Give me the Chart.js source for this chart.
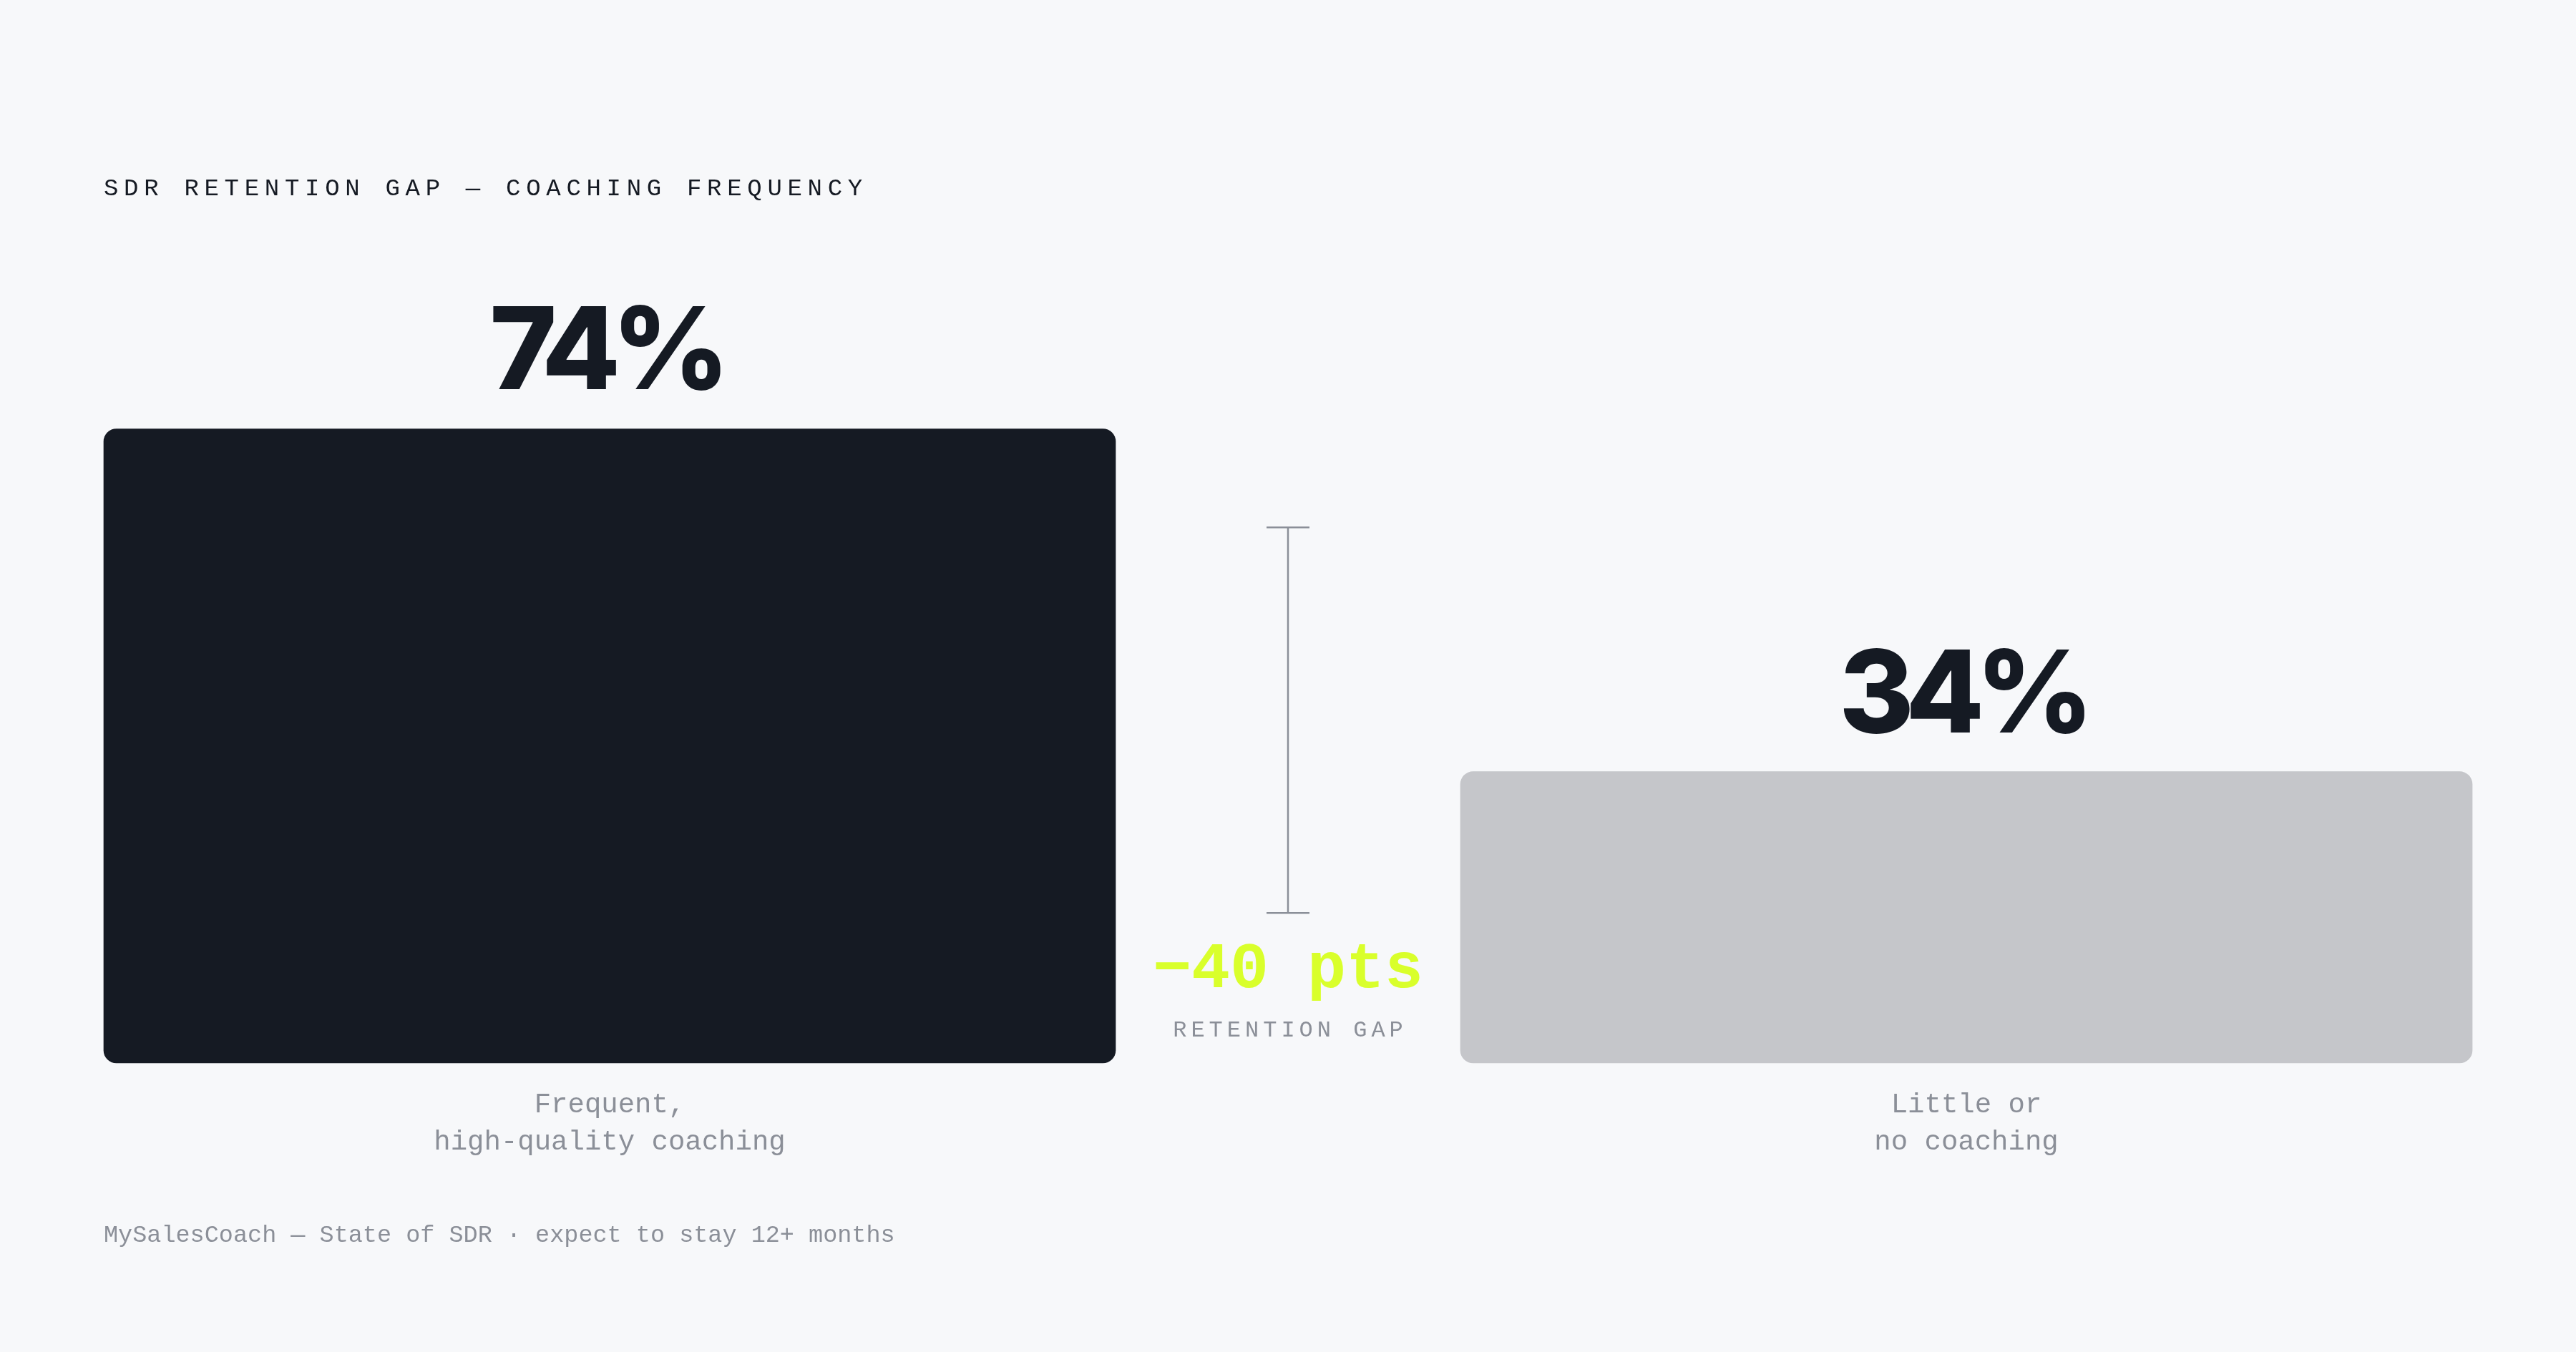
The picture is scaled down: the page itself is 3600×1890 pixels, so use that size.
<!DOCTYPE html>
<html>
<head>
<meta charset="utf-8">
<script src="https://cdn.jsdelivr.net/npm/chart.js@4.4.1/dist/chart.umd.min.js"></script>
<style>
  html, body { margin: 0; padding: 0; background: #f7f8fa; }
  #wrap { position: relative; width: 3600px; height: 1890px; }
  #chart { position: absolute; left: 0; top: 0; }
  .mono { position: absolute; font-family: "Liberation Mono", "DejaVu Sans Mono", monospace; line-height: 1; white-space: nowrap; }
  #title { left: 145px; top: 247px; font-size: 34px; letter-spacing: 7.7px; color: #151a23; }
  #footer { left: 145px; top: 1711px; font-size: 33.5px; color: #8b8f98; }
</style>
</head>
<body>
<div id="wrap">
  <canvas id="chart" width="3600" height="1890"></canvas>
  <div id="title" class="mono">SDR RETENTION GAP — COACHING FREQUENCY</div>
  <div id="footer" class="mono">MySalesCoach — State of SDR · expect to stay 12+ months</div>
</div>
<script>
// Data
const categories = [["Frequent,", "high-quality coaching"], ["Little or", "no coaching"]];
const retention = [74, 34];
const barColors = ["#151a23", "#c5c6ca"];
const gapLabel = "RETENTION GAP";

const MONO = '"Liberation Mono", "DejaVu Sans Mono", monospace';
const GREY = "#8b8f98";

// labels, gap bracket and callouts
const annotate = {
  id: "annotate",
  afterDatasetsDraw(chart) {
    const ctx = chart.ctx;
    const area = chart.chartArea;
    const x = chart.scales.x, y = chart.scales.y;
    const bars = chart.getDatasetMeta(0).data;
    ctx.save();
    ctx.textAlign = "center";
    ctx.textBaseline = "alphabetic";

    bars.forEach((bar, i) => {
      // big value on top of bar
      ctx.fillStyle = "#151a23";
      ctx.font = '800 160px Inter, "Noto Sans", sans-serif';
      ctx.letterSpacing = "-12px";
      ctx.fillText(retention[i] + "%", bar.x - 6, bar.y - 55);

      // category label below
      ctx.letterSpacing = "0px";
      ctx.fillStyle = GREY;
      ctx.font = "39px " + MONO;
      categories[i].forEach((line, j) => {
        ctx.fillText(line, x.getPixelForValue(i), area.bottom + 69 + j * 52);
      });
    });

    // gap bracket between the bars
    const gap = retention[0] - retention[1];
    const mid = (x.getPixelForValue(0) + x.getPixelForValue(1)) / 2;
    const top = y.getPixelForValue(gap + 22.5);
    const bot = y.getPixelForValue(gap - 22.5);
    ctx.strokeStyle = GREY;
    ctx.lineWidth = 2.5;
    ctx.beginPath();
    ctx.moveTo(mid, top); ctx.lineTo(mid, bot);
    ctx.moveTo(mid - 30, top); ctx.lineTo(mid + 30, top);
    ctx.moveTo(mid - 30, bot); ctx.lineTo(mid + 30, bot);
    ctx.stroke();

    ctx.fillStyle = "#d9ff2b";
    ctx.font = "bold 90px " + MONO;
    ctx.fillText("\u2212" + gap + " pts", mid, area.bottom - 106);

    ctx.fillStyle = GREY;
    ctx.font = "32px " + MONO;
    ctx.letterSpacing = "6px";
    ctx.fillText(gapLabel, mid + 3, area.bottom - 37);
    ctx.restore();
  }
};

const chart = new Chart(document.getElementById("chart").getContext("2d"), {
  type: "bar",
  data: {
    labels: categories,
    datasets: [{
      data: retention,
      backgroundColor: barColors,
      barThickness: 1414,
      borderRadius: 18,
      borderSkipped: false,
      clip: false
    }]
  },
  options: {
    responsive: false,
    devicePixelRatio: 1,
    animation: false,
    layout: { padding: { left: 852, right: 852, top: 288, bottom: 404 } },
    plugins: { legend: { display: false }, tooltip: { enabled: false } },
    scales: {
      x: { display: false, offset: false },
      y: { display: false, min: 0, max: 100 }
    }
  },
  plugins: [annotate]
});
</script>
</body>
</html>
